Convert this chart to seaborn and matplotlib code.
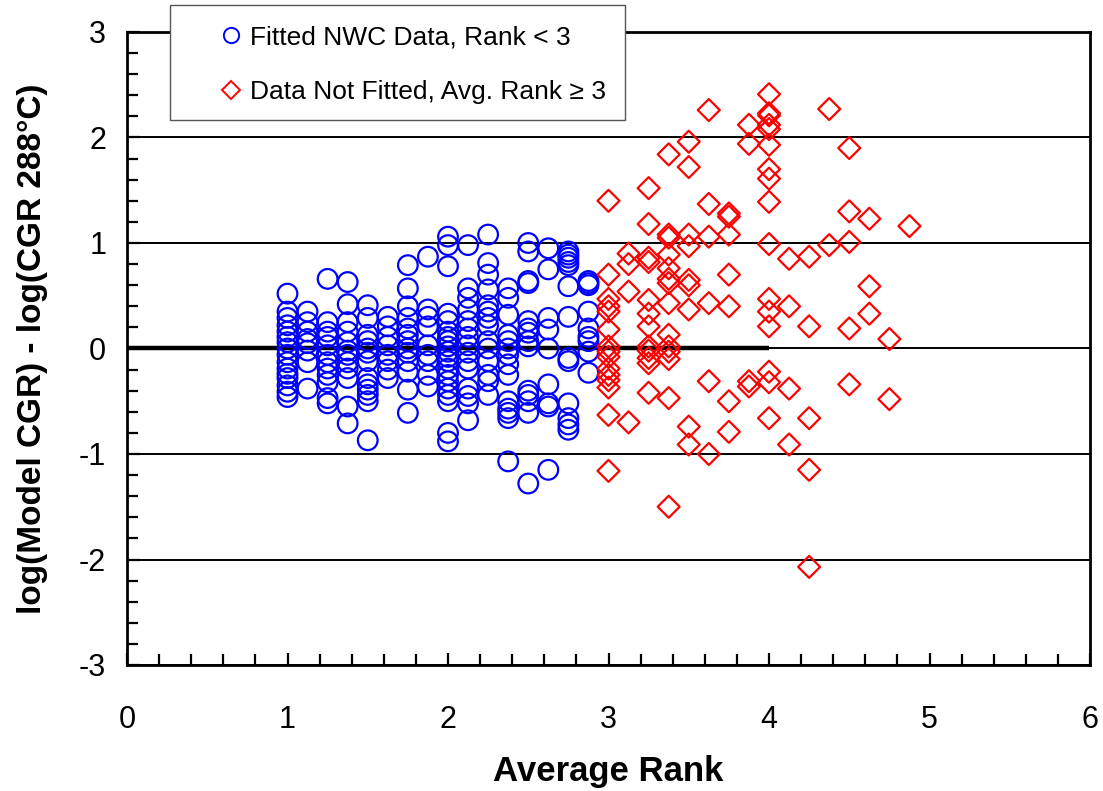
import numpy as np
import pandas as pd
import matplotlib
matplotlib.use("Agg")
import matplotlib.pyplot as plt
from matplotlib.lines import Line2D
from matplotlib.patches import Rectangle
from matplotlib.ticker import MultipleLocator
import seaborn as sns

# ---------------- data ----------------
fitted_x_levels = [1.0, 1.125, 1.25, 1.375, 1.5, 1.625, 1.75, 1.875,
                   2.0, 2.125, 2.25, 2.375, 2.5, 2.625, 2.75, 2.875]
fitted_y = [
    [0.52, 0.35, 0.29, 0.22, 0.16, 0.11, 0.06, 0.0, -0.06, -0.13, -0.19, -0.24, -0.28, -0.35, -0.41, -0.46],
    [0.35, 0.25, 0.16, 0.09, 0.05, -0.02, -0.13, -0.38],
    [0.66, 0.25, 0.16, 0.11, 0.03, -0.06, -0.13, -0.19, -0.25, -0.32, -0.47, -0.52],
    [0.63, 0.42, 0.25, 0.16, 0.06, -0.02, -0.06, -0.13, -0.19, -0.28, -0.55, -0.71],
    [0.41, 0.29, 0.13, 0.07, 0.0, -0.04, -0.12, -0.28, -0.34, -0.39, -0.44, -0.50, -0.87],
    [0.30, 0.21, 0.11, 0.03, -0.06, -0.12, -0.20, -0.28],
    [0.79, 0.57, 0.40, 0.29, 0.19, 0.13, 0.07, 0.0, -0.04, -0.12, -0.22, -0.39, -0.61],
    [0.87, 0.37, 0.30, 0.21, 0.03, -0.06, -0.12, -0.25, -0.36],
    [1.06, 0.98, 0.78, 0.33, 0.26, 0.16, 0.11, 0.07, 0.02, -0.03, -0.08, -0.12, -0.19, -0.25, -0.31, -0.38, -0.44, -0.50, -0.80, -0.88],
    [0.98, 0.57, 0.48, 0.37, 0.26, 0.19, 0.11, 0.03, -0.04, -0.12, -0.19, -0.38, -0.45, -0.52, -0.68],
    [1.08, 0.81, 0.70, 0.56, 0.41, 0.35, 0.29, 0.22, 0.07, 0.0, -0.12, -0.25, -0.31, -0.44],
    [0.57, 0.48, 0.32, 0.13, 0.07, 0.0, -0.06, -0.15, -0.25, -0.50, -0.57, -0.61, -0.66, -1.07],
    [1.00, 0.92, 0.64, 0.62, 0.26, 0.19, 0.15, 0.07, 0.02, -0.40, -0.44, -0.50, -0.61, -1.28],
    [0.95, 0.75, 0.29, 0.18, 0.0, -0.34, -0.52, -0.55, -1.15],
    [0.92, 0.89, 0.86, 0.82, 0.79, 0.59, 0.30, -0.09, -0.12, -0.52, -0.66, -0.72, -0.77],
    [0.64, 0.62, 0.60, 0.35, 0.19, 0.11, 0.07, -0.03, -0.23],
]

notfit_x_levels = [3.0, 3.125, 3.25, 3.375, 3.5, 3.625, 3.75, 3.875,
                   4.0, 4.125, 4.25, 4.375, 4.5, 4.625, 4.75, 4.875]
notfit_y = [
    [1.40, 0.70, 0.47, 0.40, 0.35, 0.18, 0.02, -0.03, -0.08, -0.19, -0.25, -0.30, -0.37, -0.63, -1.16],
    [0.90, 0.80, 0.54, -0.70],
    [1.52, 1.18, 0.86, 0.82, 0.46, 0.33, 0.21, 0.02, -0.02, -0.09, -0.14, -0.42],
    [1.84, 1.08, 1.05, 0.89, 0.76, 0.66, 0.62, 0.43, 0.13, 0.02, -0.03, -0.10, -0.47, -1.50],
    [1.96, 1.72, 1.08, 0.97, 0.65, 0.60, 0.37, -0.74, -0.91],
    [2.26, 1.37, 1.06, 0.43, -0.31, -1.00],
    [1.28, 1.25, 1.08, 0.70, 0.40, -0.50, -0.79],
    [2.12, 1.94, -0.31, -0.36],
    [2.41, 2.23, 2.21, 2.12, 2.08, 1.93, 1.70, 1.61, 1.39, 0.99, 0.47, 0.35, 0.21, -0.22, -0.32, -0.66],
    [0.85, 0.40, -0.38, -0.91],
    [0.87, 0.21, -0.66, -1.15, -2.07],
    [2.27, 0.98],
    [1.90, 1.30, 1.01, 0.19, -0.34],
    [1.23, 0.59, 0.33],
    [0.09, -0.48],
    [1.16],
]

ref_line_x = [0, 4]
ref_line_y = [0, 0]

x_ticks = [0, 1, 2, 3, 4, 5, 6]
y_ticks = [-3, -2, -1, 0, 1, 2, 3]

label_fitted = "Fitted NWC Data, Rank < 3"
label_notfit = "Data Not Fitted, Avg. Rank \u2265 3"

# ---------------- frames ----------------
df_fit = pd.DataFrame({
    "rank": np.concatenate([[x] * len(v) for x, v in zip(fitted_x_levels, fitted_y)]),
    "diff": np.concatenate(fitted_y),
})
df_nf = pd.DataFrame({
    "rank": np.concatenate([[x] * len(v) for x, v in zip(notfit_x_levels, notfit_y)]),
    "diff": np.concatenate(notfit_y),
})

# ---------------- plot ----------------
sns.set_style("white")
plt.rcParams["font.family"] = ["Liberation Sans", "DejaVu Sans"]
plt.rcParams["axes.unicode_minus"] = False
for k in ["text.color", "axes.labelcolor", "xtick.color", "ytick.color"]:
    plt.rcParams[k] = "black"

W, H = 1103, 791
fig = plt.figure(figsize=(W / 100, H / 100), dpi=100)
ax = fig.add_axes([127 / W, 1 - 665 / H, (1090 - 127) / W, (665 - 32) / H])

ax.set_xlim(0, 6)
ax.set_ylim(-3, 3)
ax.set_xticks(x_ticks)
ax.set_yticks(y_ticks)
ax.xaxis.set_minor_locator(MultipleLocator(0.2))
ax.yaxis.set_minor_locator(MultipleLocator(0.2))
ax.yaxis.grid(True, color="black", lw=1.4, zorder=1)
ax.xaxis.grid(False)
ax.set_axisbelow(True)

ax.plot(ref_line_x, ref_line_y, color="black", lw=3.2, zorder=1.5, solid_capstyle="butt")

sns.scatterplot(data=df_fit, x="rank", y="diff", ax=ax, marker="o", s=200,
                color="blue", legend=False, zorder=3)
coll_fit = ax.collections[-1]
coll_fit.set_facecolor("none")
coll_fit.set_edgecolor("#0000FF")
coll_fit.set_linewidth(1.6)

sns.scatterplot(data=df_nf, x="rank", y="diff", ax=ax, marker="D", s=125,
                color="red", legend=False, zorder=4)
coll_nf = ax.collections[-1]
coll_nf.set_facecolor("none")
coll_nf.set_edgecolor("#FF0000")
coll_nf.set_linewidth(1.6)

for sp in ax.spines.values():
    sp.set_color("black")
    sp.set_linewidth(2.0)
    sp.set_zorder(5)

ax.tick_params(axis="both", which="both", direction="in", color="black",
               left=True, bottom=True, top=False, right=False, width=1.6)
ax.tick_params(axis="both", which="major", length=9)
ax.tick_params(axis="both", which="minor", length=8)
ax.tick_params(axis="x", which="major", labelsize=22, pad=29)
ax.tick_params(axis="y", which="major", labelsize=22, pad=15)

ax.set_xlabel("Average Rank", fontsize=25, fontweight="bold", labelpad=14)
ax.set_ylabel("log(Model CGR) - log(CGR 288\u00b0C)", fontsize=24, fontweight="bold", labelpad=22)

# legend frame (drawn separately so the marker/text offsets can match)
frame = Rectangle((170 / W, 1 - 120 / H), (625 - 170) / W, 115 / H,
                  transform=fig.transFigure, facecolor="white",
                  edgecolor="#555555", linewidth=1.0, zorder=9)
fig.patches.append(frame)

handles = [
    Line2D([], [], marker="o", linestyle="none", markerfacecolor="none",
           markeredgecolor="#0000FF", markeredgewidth=1.4, markersize=11),
    Line2D([], [], marker="D", linestyle="none", markerfacecolor="none",
           markeredgecolor="#FF0000", markeredgewidth=1.4, markersize=9),
]
leg = fig.legend(handles, [label_fitted, label_notfit],
                 loc="upper left", bbox_to_anchor=(218 / W, 1 - 25 / H),
                 bbox_transform=fig.transFigure,
                 frameon=False, fontsize=19, handlelength=1.0,
                 handletextpad=0.2, labelspacing=1.17, borderpad=0,
                 borderaxespad=0)
leg.set_zorder(10)

fig.savefig("out.png", dpi=100)
